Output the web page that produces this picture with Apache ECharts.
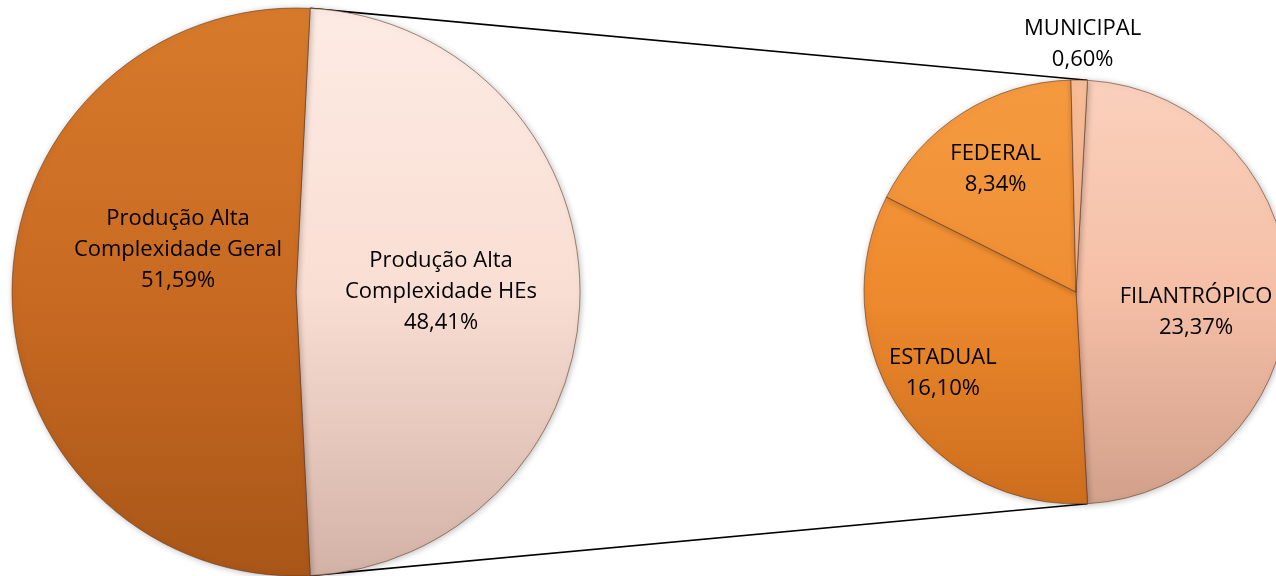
<!DOCTYPE html>
<html>
<head>
<meta charset="utf-8">
<script src="https://cdn.jsdelivr.net/npm/echarts@6/dist/echarts.min.js"></script>
<style>
html,body{margin:0;padding:0;background:#fff;}
#chart{width:1276px;height:576px;}
</style>
</head>
<body>
<div id="chart"></div>
<script>
// ---- data ----
var mainNames = ['Produção Alta\nComplexidade HEs', 'Produção Alta\nComplexidade Geral'];
var mainValues = [48.41, 51.59];
var subNames = ['FILANTRÓPICO', 'ESTADUAL', 'FEDERAL', 'MUNICIPAL'];
var subValues = [23.37, 16.10, 8.34, 0.60];

// ---- layout ----
var L = {cx: 296, cy: 292, r: 284};
var R = {cx: 1076, cy: 292, r: 212};

function fmt(v){ return v.toFixed(2).replace('.', ',') + '%'; }
function grad(c, stops){
  return {type:'linear', x:0, y:c.cy - c.r, x2:0, y2:c.cy + c.r, global:true,
    colorStops: stops.map(function(s){return {offset:s[0], color:s[1]};})};
}
var mainColors = [
  grad(L, [[0,'#FDEBE3'],[0.5,'#F9DED3'],[1,'#D3B2A6']]),
  grad(L, [[0,'#D77A2B'],[0.5,'#C96A22'],[1,'#A85618']])
];
var subColors = [
  grad(R, [[0,'#FAD0BC'],[0.5,'#F5BFA6'],[1,'#D2A08B']]),
  grad(R, [[0,'#F59A40'],[0.5,'#EE8A2E'],[1,'#CD6E1E']]),
  grad(R, [[0,'#F59A40'],[0.5,'#EF8E33'],[1,'#CD6E1E']]),
  grad(R, [[0,'#F8BE98'],[0.5,'#F2AE86'],[1,'#D0927A']])
];

var mainTotal = mainValues.reduce(function(a,b){return a+b;},0);
var subTotal = subValues.reduce(function(a,b){return a+b;},0);
var mainSpan = mainValues[0] / mainTotal * 360;
var subSpan = subValues[0] / subTotal * 360;

function pt(c, thetaDeg){ // clockwise from 12 o'clock
  var t = thetaDeg * Math.PI / 180;
  return [c.cx + c.r * Math.sin(t), c.cy - c.r * Math.cos(t)];
}
var lt = pt(L, 90 - mainSpan/2), lb = pt(L, 90 + mainSpan/2);
var rt = pt(R, 90 - subSpan/2), rb = pt(R, 90 + subSpan/2);

// label nudges relative to ECharts' inside position
var mainNudge = [[0,0],[27,-42]];
var subNudge = [[11,20],[-42,21],[-22,-31],[5,-139]];

var font = {fontFamily:'"Open Sans", "Noto Sans", sans-serif', fontSize:22, lineHeight:31, color:'#000'};

var chart = echarts.init(document.getElementById('chart'), null, {renderer:'canvas'});
chart.setOption({
  animation:false,
  backgroundColor:'#fff',
  graphic:[
    {type:'line', z:1, shape:{x1:lt[0], y1:lt[1], x2:rt[0], y2:rt[1]}, style:{stroke:'#000', lineWidth:1.6}},
    {type:'line', z:1, shape:{x1:lb[0], y1:lb[1], x2:rb[0], y2:rb[1]}, style:{stroke:'#000', lineWidth:1.6}}
  ],
  series:[
    {
      type:'pie', center:[L.cx, L.cy], radius:[0, L.r], startAngle: mainSpan/2, clockwise:true,
      avoidLabelOverlap:false, silent:true,
      itemStyle:{borderColor:'rgba(90,50,30,0.55)', borderWidth:1, shadowBlur:6, shadowColor:'rgba(0,0,0,0.25)', shadowOffsetX:1, shadowOffsetY:1},
      label:Object.assign({show:true, position:'inside', align:'center',
        formatter:function(p){ return p.name + '\n' + fmt(p.value); }}, font),
      labelLine:{show:false},
      labelLayout:function(p){ var n = mainNudge[p.dataIndex]; return {dx:n[0], dy:n[1]}; },
      data: mainValues.map(function(v,i){ return {name:mainNames[i], value:v, itemStyle:{color:mainColors[i]}}; })
    },
    {
      type:'pie', center:[R.cx, R.cy], radius:[0, R.r], startAngle: subSpan/2, clockwise:true,
      avoidLabelOverlap:false, silent:true,
      itemStyle:{borderColor:'rgba(90,50,30,0.55)', borderWidth:1, shadowBlur:6, shadowColor:'rgba(0,0,0,0.25)', shadowOffsetX:1, shadowOffsetY:1},
      label:Object.assign({show:true, position:'inside', align:'center',
        formatter:function(p){ return p.name + '\n' + fmt(p.value); }}, font),
      labelLine:{show:false},
      labelLayout:function(p){ var n = subNudge[p.dataIndex]; return {dx:n[0], dy:n[1]}; },
      data: subValues.map(function(v,i){ return {name:subNames[i], value:v, itemStyle:{color:subColors[i]}}; })
    }
  ]
});
</script>
</body>
</html>
